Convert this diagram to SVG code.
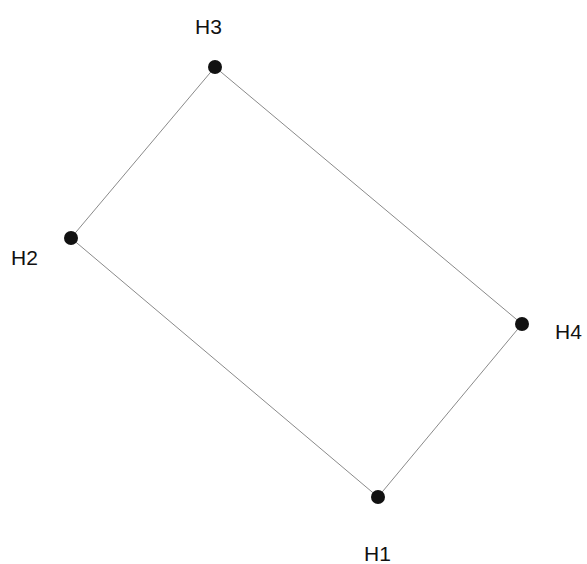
<svg xmlns="http://www.w3.org/2000/svg" width="587" height="564" viewBox="0 0 587 564">
<style>
.e{stroke:#8a8a8a;stroke-width:1;fill:none}
.n{fill:#111}
.t{font-family:"Liberation Sans",Arial,sans-serif;font-size:21px;fill:#111}
</style>
<rect width="587" height="564" fill="#fff"/>
<g id="connectors">
<line class="e" x1="215" y1="67" x2="71" y2="238"/>
<line class="e" x1="215" y1="67" x2="522" y2="324"/>
<line class="e" x1="71" y1="238" x2="378" y2="497"/>
<line class="e" x1="522" y1="324" x2="378" y2="497"/>
</g>
<g id="n3"><circle class="n" cx="215" cy="67" r="7"/><text class="t" x="195" y="34">H3</text></g>
<g id="n2"><circle class="n" cx="71" cy="238" r="7"/><text class="t" x="11" y="265">H2</text></g>
<g id="n4"><circle class="n" cx="522" cy="324" r="7"/><text class="t" x="555" y="339">H4</text></g>
<g id="n1"><circle class="n" cx="378" cy="497" r="7"/><text class="t" x="364" y="561">H1</text></g>
</svg>
